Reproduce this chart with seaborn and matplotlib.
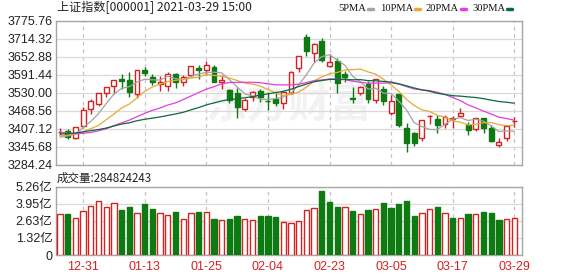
import numpy as np
import pandas as pd
import matplotlib
matplotlib.use("Agg")
import matplotlib.pyplot as plt
import seaborn as sns
from matplotlib.lines import Line2D

# ---------------- data ----------------
dates = ["12-28", "12-29", "12-30", "12-31",
         "01-04", "01-05", "01-06", "01-07", "01-08", "01-11", "01-12", "01-13", "01-14", "01-15",
         "01-18", "01-19", "01-20", "01-21", "01-22", "01-25", "01-26", "01-27", "01-28", "01-29",
         "02-01", "02-02", "02-03", "02-04", "02-05", "02-08", "02-09", "02-10", "02-18", "02-19",
         "02-22", "02-23", "02-24", "02-25", "02-26",
         "03-01", "03-02", "03-03", "03-04", "03-05", "03-08", "03-09", "03-10", "03-11", "03-12",
         "03-15", "03-16", "03-17", "03-18", "03-19", "03-22", "03-23", "03-24", "03-25", "03-26", "03-29"]

opens = [3396, 3399, 3375, 3419, 3475, 3492, 3531, 3553, 3578, 3575, 3528, 3610, 3586, 3562,
         3553, 3596, 3566, 3590, 3617, 3607, 3619, 3566, 3540, 3529, 3475, 3516, 3538, 3503,
         3510, 3497, 3531, 3615, 3721, 3666, 3709, 3622, 3640, 3596, 3512, 3531, 3561, 3506,
         3542, 3462, 3525, 3410, 3392, 3376, 3450, 3441, 3425, 3440, 3450, 3421, 3407, 3443,
         3409, 3352, 3375, 3433]
highs = [3412, 3407, 3415, 3482, 3511, 3529, 3551, 3576, 3594, 3600, 3608, 3620, 3595, 3587,
         3600, 3597, 3590, 3622, 3627, 3640, 3627, 3590, 3545, 3546, 3513, 3538, 3545, 3534,
         3530, 3534, 3604, 3658, 3732, 3700, 3718, 3664, 3650, 3606, 3550, 3554, 3570, 3579,
         3553, 3522, 3528, 3428, 3397, 3437, 3455, 3455, 3455, 3450, 3478, 3431, 3444, 3445,
         3420, 3376, 3420, 3449]
lows = [3384, 3374, 3374, 3412, 3457, 3485, 3515, 3527, 3544, 3516, 3513, 3589, 3559, 3536,
        3536, 3546, 3555, 3584, 3579, 3592, 3569, 3543, 3495, 3446, 3468, 3503, 3500, 3472,
        3487, 3477, 3525, 3600, 3656, 3636, 3636, 3618, 3530, 3568, 3496, 3522, 3496, 3497,
        3490, 3455, 3413, 3328, 3348, 3367, 3425, 3393, 3411, 3411, 3448, 3386, 3401, 3393,
        3364, 3345, 3365, 3413]
closes = [3397, 3379, 3414, 3473, 3503, 3529, 3551, 3576, 3570, 3532, 3608, 3599, 3566, 3566.4,
          3596, 3567, 3583, 3621, 3607, 3624, 3569, 3573, 3505, 3483, 3505, 3534, 3517, 3502,
          3496, 3532, 3603, 3655, 3675, 3696, 3642, 3636, 3564, 3585, 3509, 3551, 3509, 3577,
          3503, 3502, 3421, 3359, 3358, 3437, 3453, 3420, 3447, 3446, 3463, 3405, 3443, 3412,
          3367, 3364, 3418, 3435]
# volume in 亿 (1e8)
volumes = [3.21, 3.16, 2.90, 3.39, 3.82, 4.16, 3.75, 4.05, 3.46, 3.70, 3.28, 3.93, 3.54, 3.28,
           3.08, 3.31, 2.75, 3.28, 3.31, 3.31, 2.77, 2.67, 2.77, 3.00, 2.75, 2.67, 3.00, 3.00,
           2.93, 2.54, 2.51, 2.62, 3.46, 3.67, 4.93, 4.11, 3.70, 3.70, 3.39, 3.16, 3.46, 3.54,
           4.00, 3.64, 3.93, 4.16, 3.00, 3.23, 3.59, 3.70, 3.23, 2.85, 2.85, 3.16, 3.16, 3.31,
           3.23, 2.69, 2.77, 2.85]
# closes before the visible window (needed for the moving averages)
prior_closes = [3346.97, 3339.90, 3347.30, 3363.09, 3377.73, 3414.49, 3402.82, 3362.33, 3369.73,
                3408.31, 3391.76, 3451.94, 3449.38, 3442.14, 3444.58, 3416.60, 3410.18, 3371.96,
                3373.28, 3347.19, 3369.12, 3367.23, 3366.98, 3404.87, 3394.90, 3420.57, 3356.78,
                3382.32, 3363.11, 3396.56]
last_volume = 284824243

tick_labels = ["12-31", "01-13", "01-25", "02-04", "02-23", "03-05", "03-17", "03-29"]
price_ticks = [3284.24, 3345.68, 3407.12, 3468.56, 3530.00, 3591.44, 3652.88, 3714.32, 3775.76]
vol_ticks = [0, 1.32, 2.63, 3.95, 5.26]
vol_tick_labels = ["0", "1.32亿", "2.63亿", "3.95亿", "5.26亿"]
ma_windows = [5, 10, 20, 30]
ma_names = ["5PMA", "10PMA", "20PMA", "30PMA"]

# ---------------- style ----------------
sns.set_theme(style="white")
plt.rcParams["font.family"] = ["Liberation Sans", "Noto Sans CJK SC", "DejaVu Sans"]

RED = "#d42222"
GREEN = "#0e7a12"
ma_colors = ["#a3a3a3", "#e8a935", "#e33ce3", "#0c6a3c"]
SPINE = "#a6a6a6"
GRID = "#d9d9d9"

n = len(dates)
x = np.arange(n)
df = pd.DataFrame({"x": x, "date": dates, "open": opens, "high": highs, "low": lows,
                   "close": closes, "vol": volumes})
full_close = pd.Series(prior_closes + closes)
for w, name in zip(ma_windows, ma_names):
    df[name] = full_close.rolling(w).mean().iloc[-n:].to_numpy()
prev_close = pd.Series(prior_closes[-1:] + closes[:-1])
df["vol_up"] = (df["close"] >= prev_close.to_numpy())
df["up"] = df["close"] >= df["open"]

W, H = 578, 276
fig = plt.figure(figsize=(W / 100, H / 100), dpi=100)
fig.patch.set_facecolor("white")

def fx(px):
    return px / W

def fy(py):
    return 1 - py / H

L, R = 56, 522
ax = fig.add_axes([fx(L), fy(165), fx(R - L), fy(21) - fy(165)])
ax2 = fig.add_axes([fx(L), fy(255), fx(R - L), fy(187) - fy(255)])

tick_pos = [dates.index(t) for t in tick_labels]
xlim = (-0.52, n)

# watermark
ax.text(0.5, 0.42, "东方财富", transform=ax.transAxes, ha="center", va="center",
        fontsize=30, color="#f2f2f2", family=["Noto Sans CJK SC"], fontweight="bold",
        zorder=0.5)

# candles
bw = 0.64
for _, r in df.iterrows():
    col = RED if r["up"] else GREEN
    ax.vlines(r["x"], r["low"], r["high"], color=col, linewidth=1.0, zorder=3)
    lo = min(r["open"], r["close"])
    h = max(abs(r["close"] - r["open"]), 0.4)
    ax.bar(r["x"], h, bottom=lo, width=bw,
           facecolor="white" if r["up"] else GREEN, edgecolor=col, linewidth=1.0, zorder=4)

# moving averages
for name, c in zip(ma_names, ma_colors):
    sns.lineplot(data=df, x="x", y=name, ax=ax, color=c, linewidth=0.9, zorder=5,
                 legend=False)

ax.set_xlim(*xlim)
ax.set_ylim(price_ticks[0], price_ticks[-1])
ax.set_yticks(price_ticks)
ax.set_yticklabels([f"{v:.2f}" for v in price_ticks])
ax.set_xticks(tick_pos)
ax.set_xticklabels([])
ax.set_xlabel("")
ax.set_ylabel("")

# volume
for _, r in df.iterrows():
    up = r["vol_up"]
    ax2.bar(r["x"], r["vol"], width=0.68, facecolor="white" if up else GREEN,
            edgecolor=RED if up else GREEN, linewidth=1.0, zorder=3)
ax2.set_xlim(*xlim)
ax2.set_ylim(0, vol_ticks[-1])
ax2.set_yticks(vol_ticks)
ax2.set_yticklabels(vol_tick_labels)
ax2.set_xticks(tick_pos)
ax2.set_xticklabels(tick_labels)

for a in (ax, ax2):
    a.set_facecolor("white")
    a.grid(axis="y", color=GRID, linestyle="-", linewidth=0.9)
    a.grid(axis="x", color="#c4c4c4", linestyle=(0, (3, 3)), linewidth=0.9)
    a.set_axisbelow(True)
    for s in a.spines.values():
        s.set_color(SPINE)
        s.set_linewidth(1.0)
    a.tick_params(axis="both", length=0)
    a.tick_params(axis="y", pad=2.5, labelsize=9, labelcolor="#222222")
for lab in ax2.get_xticklabels():
    lab.set_color(RED)
    lab.set_fontsize(9)
ax2.tick_params(axis="x", pad=4)

# title and volume caption
fig.text(fx(57), fy(8), "上证指数[000001] 2021-03-29 15:00", ha="left", va="center",
         fontsize=8.7, color="#222222", family=["Noto Sans CJK SC", "DejaVu Sans"])
fig.text(fx(57), fy(178), f"成交量:{last_volume}", ha="left", va="center",
         fontsize=8.3, color="#222222", family=["Noto Sans CJK SC", "DejaVu Sans"])

# legend: label followed by a short colour dash
renderer = fig.canvas.get_renderer()
leg_x = [338, 380, 426, 472]
for lx, name, c in zip(leg_x, ma_names, ma_colors):
    t = fig.text(fx(lx), fy(8.5), name, ha="left", va="center", fontsize=7.6,
                 color="#111111", family=["Liberation Serif"])
    end_px = t.get_window_extent(renderer=renderer).x1
    dx = end_px + 2
    fig.add_artist(Line2D([dx / W, (dx + 5) / W], [fy(8.5), fy(8.5)], color=c,
                          linewidth=2.5, transform=fig.transFigure))

fig.savefig("out.png", dpi=100, facecolor="white")
